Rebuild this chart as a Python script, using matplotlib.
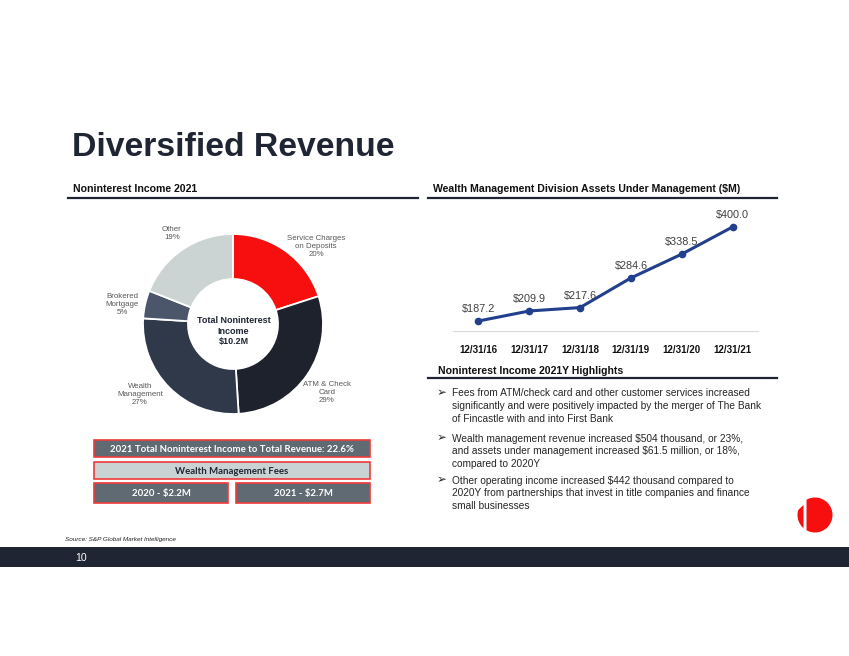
import matplotlib

matplotlib.use("Agg")
import matplotlib.pyplot as plt
from matplotlib.patches import Rectangle, Circle, Polygon

plt.rcParams["font.family"] = ["Liberation Sans", "DejaVu Sans"]

W, H = 849, 656
NAVY = "#1f2533"

# pie data (clockwise from 12 o'clock)
seg_labels = ["Service Charges\non Deposits", "ATM & Check\nCard", "Wealth\nManagement",
              "Brokered\nMortgage", "Other"]
seg_pct = [20, 29, 27, 5, 19]
seg_colors = ["#f70f0f", "#1e222c", "#2f394a", "#4b566b", "#ccd4d3"]

# assets under management
aum_dates = ["12/31/16", "12/31/17", "12/31/18", "12/31/19", "12/31/20", "12/31/21"]
aum_values = [187.2, 209.9, 217.6, 284.6, 338.5, 400.0]

bullets = [
    "Fees from ATM/check card and other customer services increased\n"
    "significantly and were positively impacted by the merger of The Bank\n"
    "of Fincastle with and into First Bank",
    "Wealth management revenue increased $504 thousand, or 23%,\n"
    "and assets under management increased $61.5 million, or 18%,\n"
    "compared to 2020Y",
    "Other operating income increased $442 thousand compared to\n"
    "2020Y from partnerships that invest in title companies and finance\n"
    "small businesses",
]


def ax_rect(x0, y0, x1, y1):
    # pixel box (top-left origin) -> figure fraction rect
    return [x0 / W, 1 - y1 / H, (x1 - x0) / W, (y1 - y0) / H]


fig = plt.figure(figsize=(W / 100, H / 100), dpi=100)

# overlay in pixel coords for page decorations
pg = fig.add_axes([0, 0, 1, 1])
pg.set_xlim(0, W)
pg.set_ylim(H, 0)
pg.axis("off")

pg.text(72, 156, "Diversified Revenue", fontsize=24.3, fontweight="bold", color=NAVY, va="baseline")
pg.text(73, 192, "Noninterest Income 2021", fontsize=7.6, fontweight="bold", color="#111111", va="baseline")
pg.plot([68, 418], [198, 198], color=NAVY, lw=1.6)
pg.text(433, 192, "Wealth Management Division Assets Under Management ($M)", fontsize=7.6,
        fontweight="bold", color="#111111", va="baseline")
pg.plot([428, 777], [198, 198], color=NAVY, lw=1.6)
pg.text(438, 374, "Noninterest Income 2021Y Highlights", fontsize=7.6, fontweight="bold",
        color="#111111", va="baseline")
pg.plot([428, 777], [378, 378], color=NAVY, lw=1.6)

# bullets
for y, txt in zip([388.5, 433.5, 475.5], bullets):
    pg.text(437, y + 4.5, "\u27a2", fontsize=8.5, color="#262626", va="center", family="DejaVu Sans")
    pg.text(452, y, txt, fontsize=7.3, color="#262626", va="top", linespacing=1.36)

# summary boxes
boxes = [
    (94, 440, 370, 457, "#5f6a73", "white", "2021 Total Noninterest Income to Total Revenue: 22.6%"),
    (94, 462, 370, 479, "#c9d3d3", "#1f2533", "Wealth Management Fees"),
    (94, 483, 228, 503, "#5f6a73", "white", "2020 - $2.2M"),
    (236, 483, 370, 503, "#5f6a73", "white", "2021 - $2.7M"),
]
for x0, y0, x1, y1, fc, tc, txt in boxes:
    pg.add_patch(Rectangle((x0, y0), x1 - x0, y1 - y0, facecolor=fc, edgecolor="#f03a3a", lw=1.2))
    pg.text((x0 + x1) / 2, (y0 + y1) / 2 + 0.5, txt, ha="center", va="center", fontsize=6.9,
            fontweight="bold", color=tc, family=["Lato", "DejaVu Sans"])

pg.text(65, 539, "Source: S&P Global Market Intelligence", fontsize=4.6, style="italic",
        color="#222222", va="center")

# footer bar
pg.add_patch(Rectangle((0, 547), W, 20, facecolor=NAVY, edgecolor="none"))
pg.text(75, 558, "10", fontsize=7.6, color="white", va="center")

# logo
pg.add_patch(Circle((815, 515), 17.5, facecolor="#f70f0f", edgecolor="none"))
pg.add_patch(Polygon([(795, 513), (803.5, 505), (803.5, 535), (806.5, 535), (806.5, 495), (795, 495)],
                     closed=True, facecolor="white", edgecolor="none"))

# donut
pie_ax = fig.add_axes(ax_rect(143, 234, 323, 414))
pie_ax.pie(seg_pct, colors=seg_colors, startangle=90, counterclock=False,
           wedgeprops=dict(width=0.5, edgecolor="white", linewidth=1.3))
pie_ax.set_xlim(-1, 1)
pie_ax.set_ylim(-1, 1)
pg.text(233.5, 331, "Total Noninterest\nIncome\n$10.2M", ha="center", va="center", fontsize=6.5,
        fontweight="bold", color=NAVY, linespacing=1.25)

label_pos = [(316, 247), (327, 393), (140, 395), (122, 305), (172, 233.5)]
for (x, y), name, pct in zip(label_pos, seg_labels, seg_pct):
    pg.text(x, y, f"{name}\n{pct}%", ha="center", va="center", fontsize=5.7, color="#595959",
            linespacing=1.2)

# AUM line chart
ax = fig.add_axes(ax_rect(453, 215, 758, 331))
xs = list(range(len(aum_values)))
ax.plot(xs, aum_values, color="#213f8c", lw=2.2, marker="o", ms=4.5)
for x, v in zip(xs, aum_values):
    ax.annotate(f"${v:.1f}", (x, v), xytext=(0, 5), textcoords="offset points", ha="center",
                va="bottom", fontsize=7.8, color="#404040")
ax.set_xlim(-0.5, 5.5)
ax.set_ylim(164.6, 427)
ax.set_xticks(xs)
ax.set_xticklabels(aum_dates, fontsize=7, fontweight="bold", color="#111111")
ax.set_yticks([])
for s in ["top", "left", "right"]:
    ax.spines[s].set_visible(False)
ax.spines["bottom"].set_color("#d9d9d9")
ax.tick_params(axis="x", length=0, pad=10)
ax.patch.set_alpha(0)

fig.savefig("out.png", dpi=100)
